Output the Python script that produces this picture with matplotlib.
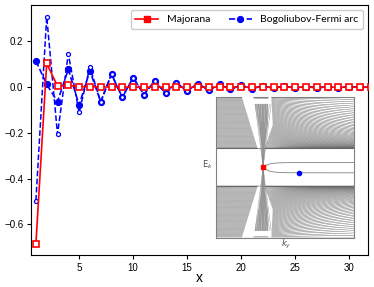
import numpy as np
import matplotlib.pyplot as plt
from matplotlib.patches import Polygon, Rectangle

# chart data
x = np.arange(1, 41)
majorana = [-0.685, 0.104, 0.005, 0.008, 0.003, 0.002, 0.001, 0.001, 0.001, 0.0,
            0.0, 0.0, 0.0, 0.0, 0.0, 0.0, 0.0, 0.0, 0.0, 0.0,
            0.0, 0.0, 0.0, 0.0, 0.0, 0.0, 0.0, 0.0, 0.0, 0.0,
            0.0, 0.0, 0.0, 0.0, 0.0, 0.0, 0.0, 0.0, 0.0, 0.0]
bfa_open = [-0.496, 0.309, -0.206, 0.146, -0.110, 0.088, -0.064, 0.057, -0.045, 0.042,
            -0.032, 0.027, -0.025, 0.019, -0.016, 0.016, -0.013, 0.012, -0.009, 0.009,
            -0.007, 0.006, -0.005, 0.005, -0.004, 0.003, -0.003, 0.002, -0.002, 0.002,
            -0.001, 0.001, -0.001, 0.001, 0.0, 0.0, 0.0, 0.0, 0.0, 0.0]
bfa_filled = [0.115, 0.012, -0.063, 0.078, -0.078, 0.072] + bfa_open[6:]

legend_labels = ["Majorana", "Bogoliubov-Fermi arc"]

fig = plt.figure(figsize=(3.74, 2.87), dpi=100)
ax = fig.add_axes([0.083, 0.111, 0.901, 0.871])

ax.plot(x, bfa_filled, '--', color='blue', lw=1.2, marker='o', ms=4.4,
        mfc='blue', mec='blue', mew=0.8, zorder=2, label=legend_labels[1])
ax.plot(x, bfa_open, '--', color='blue', lw=1.1, marker='o', ms=2.9,
        mfc='white', mec='blue', mew=0.9, zorder=3)
ax.plot(x, majorana, '-', color='red', lw=1.2, marker='s', ms=3.7,
        mfc='white', mec='red', mew=1.2, zorder=4)
# legend handle uses filled square
h_maj, = ax.plot([], [], '-', color='red', lw=1.2, marker='s', ms=4.2,
                 mfc='red', mec='red', label=legend_labels[0])

ax.set_xlim(0.55, 31.75)
ax.set_ylim(-0.735, 0.359)
ax.set_xticks([5, 10, 15, 20, 25, 30])
ax.set_yticks([-0.6, -0.4, -0.2, 0.0, 0.2])
ax.tick_params(labelsize=7, length=3, width=0.8, pad=2.5)
for lab in ax.get_xticklabels() + ax.get_yticklabels():
    lab.set_family('Liberation Sans')
ax.set_xlabel('x', fontsize=10, family='Liberation Sans', labelpad=-1)

handles, labels = ax.get_legend_handles_labels()
order = [labels.index(legend_labels[0]), labels.index(legend_labels[1])]
ax.legend([handles[i] for i in order], [labels[i] for i in order],
          loc='upper right', ncol=2, prop={'family': 'Lato', 'size': 7.5},
          frameon=True, fancybox=True, framealpha=1, edgecolor='0.8',
          handlelength=2.2, columnspacing=1.8, borderpad=0.45)

# inset: schematic band spectrum
axin = fig.add_axes([0.578, 0.172, 0.369, 0.49])
axin.set_xlim(0, 1)
axin.set_ylim(-1, 1)
axin.set_xticks([])
axin.set_yticks([])
for s in axin.spines.values():
    s.set_color('0.5')
    s.set_linewidth(0.8)

gray = '0.42'
k = np.linspace(0, 1, 300)
gap = 0.27
n_bands = 55
p = 1 + 1.6 * np.clip((k - 0.4) / 0.6, 0, 1)
for n in range(n_bands + 1):
    t = n / n_bands
    e = gap + (1 - gap) * t ** p
    axin.plot(k, e, color=gray, lw=0.35)
    axin.plot(k, -e, color=gray, lw=0.35)
axin.plot([0, 1], [gap, gap], color='0.4', lw=0.8)
axin.plot([0, 1], [-gap, -gap], color='0.4', lw=0.8)

# white wedges of the crossing
wedges = [
    [(0.186, 1.0), (0.27, 1.0), (0.335, gap), (0.30, gap)],
    [(0.378, 1.0), (0.40, 1.0), (0.41, 0.6), (0.35, gap), (0.345, gap), (0.375, 0.6)],
]
for w in wedges:
    axin.add_patch(Polygon(w, closed=True, fc='white', ec='none', zorder=3))
    axin.add_patch(Polygon([(a, -b) for a, b in w], closed=True, fc='white', ec='none', zorder=3))
axin.add_patch(Rectangle((0.27, 0.9), 0.12, 0.07, fc='white', ec='none', zorder=3))
axin.add_patch(Rectangle((0.27, -0.97), 0.12, 0.07, fc='white', ec='none', zorder=3))

# lines crossing the gap through the center
ee = np.linspace(-0.9, 0.9, 50)
for sl in np.linspace(-0.065, 0.035, 8):
    kk = 0.34 + sl * ee
    axin.plot(kk, ee, color='0.55', lw=0.3, zorder=4)
    axin.plot(kk, -ee, color='0.55', lw=0.3, zorder=4)

# arc branch in the gap
kb = np.linspace(0.355, 1, 200)
amp = np.sqrt(1 - np.exp(-(kb - 0.355) / 0.05))
axin.plot(kb, 0.068 * amp, color='0.5', lw=0.6, zorder=4)
axin.plot(kb, -0.078 * amp, color='0.5', lw=0.6, zorder=4)

axin.plot([0.34], [0.0], 's', color='red', ms=3, zorder=6)
axin.plot([0.60], [-0.08], 'o', color='blue', ms=3, zorder=6)

fig.text(0.556, 0.425, r'$\mathrm{E}_k$', fontsize=6, color='0.3', ha='center', va='center')
fig.text(0.765, 0.148, r'$k_y$', fontsize=6, color='0.3', ha='center', va='center')

fig.savefig('out.png', dpi=100)
